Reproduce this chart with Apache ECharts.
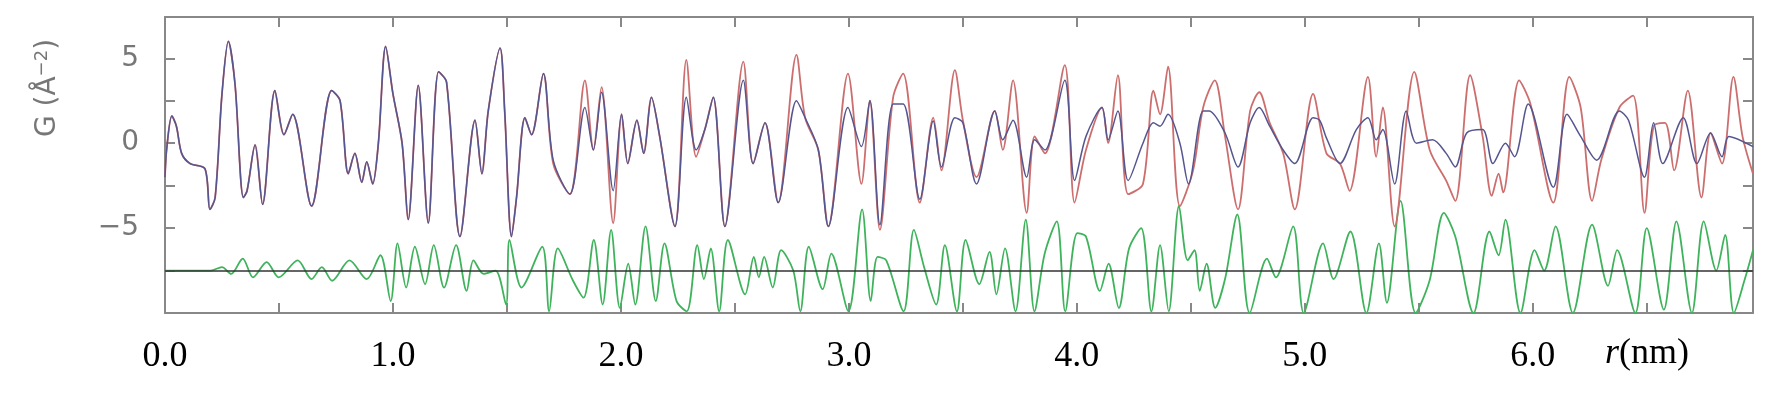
<!DOCTYPE html>
<html><head><meta charset="utf-8">
<script src="https://cdn.jsdelivr.net/npm/echarts@6/dist/echarts.min.js"></script>
<style>html,body{margin:0;padding:0;background:#fff}#c{width:1768px;height:406px}</style>
</head><body><div id="c"></div>
<script>
const xTickLabels = ['0.0','1.0','2.0','3.0','4.0','5.0','6.0'];
const yTickLabels = {'5':'5','0':'0','-5':'−5'};
const diffBaseline = -7.5;
const calcCurve = [[0,-2],[0.007,-0.4],[0.03,1.6],[0.05,1.0],[0.073,-0.6],[0.11,-1.2],[0.175,-1.5],[0.197,-3.9],[0.22,-3.2],[0.25,2.9],[0.278,6.0],[0.307,3.5],[0.344,-3.2],[0.36,-2.8],[0.395,-0.1],[0.428,-3.6],[0.482,3.1],[0.522,0.5],[0.56,1.7],[0.643,-3.7],[0.731,3.1],[0.768,2.5],[0.804,-1.8],[0.833,-0.6],[0.863,-2.3],[0.885,-1.1],[0.911,-2.4],[0.936,0],[0.968,5.7],[1.0,2.9],[1.04,0],[1.067,-4.5],[1.111,3.4],[1.155,-4.7],[1.2,4.2],[1.235,3.6],[1.294,-5.5],[1.36,1.35],[1.39,-1.8],[1.418,1.9],[1.47,5.6],[1.49,1.9],[1.52,-5.5],[1.542,-3.2],[1.579,1.5],[1.608,0.5],[1.66,4.1],[1.703,-1.2],[1.776,-3.0],[1.842,3.7],[1.879,-0.4],[1.915,3.3],[1.966,-4.7],[2.003,1.7],[2.03,-1.2],[2.07,1.35],[2.1,-0.6],[2.134,2.7],[2.17,0.4],[2.237,-4.9],[2.287,4.9],[2.33,-0.8],[2.368,0.8],[2.405,2.7],[2.456,-4.9],[2.537,4.8],[2.58,-1.2],[2.632,1.2],[2.69,-3.5],[2.77,5.2],[2.808,1.5],[2.866,-0.4],[2.91,-4.9],[2.996,4.1],[3.055,-2.4],[3.092,2.5],[3.136,-5.1],[3.194,2.7],[3.238,4.1],[3.311,-3.5],[3.37,1.5],[3.406,-1.6],[3.465,4.3],[3.5,1.35],[3.56,-2.0],[3.64,1.9],[3.675,-0.4],[3.72,3.7],[3.78,-4.1],[3.815,0.4],[3.86,-0.6],[3.947,4.6],[3.99,-3.5],[4.04,-0.4],[4.11,2.1],[4.137,0],[4.18,4.0],[4.225,-3.0],[4.29,-2.4],[4.336,3.1],[4.365,1.7],[4.4,4.5],[4.452,-3.7],[4.51,-1.6],[4.554,2.1],[4.605,3.7],[4.65,0.4],[4.707,-3.9],[4.76,1.9],[4.8,3.0],[4.846,1.2],[4.905,-0.6],[4.956,-3.9],[5.036,2.9],[5.095,-0.6],[5.154,-1.2],[5.196,-2.8],[5.277,3.9],[5.313,-0.8],[5.342,2.1],[5.394,-4.9],[5.48,4.2],[5.548,-0.4],[5.62,-2.2],[5.66,-3.4],[5.725,4.0],[5.78,0.4],[5.82,-3.1],[5.85,-1.8],[5.87,-2.9],[5.94,3.7],[5.99,2.3],[6.09,-3.5],[6.16,3.9],[6.21,2.1],[6.26,-3.4],[6.3,-1.0],[6.38,2.1],[6.44,2.8],[6.49,-4.1],[6.53,1.0],[6.58,1.2],[6.62,-1.6],[6.68,3.1],[6.74,-3.2],[6.78,0.6],[6.83,-1.2],[6.88,3.9],[6.92,0.4],[6.966,-1.8]];
const obsCurve = [[0,-2],[0.007,-0.4],[0.03,1.6],[0.05,1.0],[0.073,-0.6],[0.11,-1.2],[0.175,-1.5],[0.197,-3.9],[0.22,-3.2],[0.25,2.9],[0.278,6.0],[0.307,3.5],[0.344,-3.2],[0.36,-2.8],[0.395,-0.1],[0.428,-3.6],[0.482,3.1],[0.522,0.5],[0.56,1.7],[0.643,-3.7],[0.731,3.1],[0.768,2.5],[0.804,-1.8],[0.833,-0.6],[0.863,-2.3],[0.885,-1.1],[0.911,-2.4],[0.936,0],[0.968,5.7],[1.0,2.9],[1.04,0],[1.067,-4.5],[1.111,3.4],[1.155,-4.7],[1.2,4.2],[1.235,3.6],[1.294,-5.5],[1.36,1.35],[1.39,-1.8],[1.418,1.9],[1.47,5.6],[1.49,1.9],[1.52,-5.5],[1.542,-3.2],[1.579,1.5],[1.608,0.5],[1.66,4.1],[1.703,-1.0],[1.776,-3.0],[1.842,2.1],[1.879,-0.4],[1.915,3.0],[1.966,-2.8],[2.003,1.7],[2.03,-1.2],[2.07,1.35],[2.1,-0.6],[2.134,2.7],[2.17,0.4],[2.237,-4.9],[2.287,2.7],[2.33,-0.4],[2.368,0.8],[2.405,2.7],[2.456,-4.9],[2.537,3.7],[2.58,-1.2],[2.632,1.2],[2.69,-3.5],[2.77,2.5],[2.808,1.5],[2.866,-0.4],[2.91,-4.9],[2.996,2.1],[3.055,-0.2],[3.092,2.5],[3.136,-4.8],[3.194,2.3],[3.238,2.3],[3.311,-3.3],[3.37,1.3],[3.406,-1.4],[3.465,1.5],[3.5,1.2],[3.56,-2.4],[3.64,1.9],[3.675,0.2],[3.72,1.35],[3.78,-2.0],[3.815,0.2],[3.86,-0.4],[3.947,3.7],[3.99,-2.2],[4.04,0.4],[4.11,2.1],[4.137,0.2],[4.18,1.9],[4.225,-2.2],[4.29,0],[4.336,1.2],[4.365,1.0],[4.4,1.7],[4.452,0],[4.49,-2.4],[4.554,1.9],[4.58,1.9],[4.65,0.6],[4.707,-1.4],[4.76,1.2],[4.8,2.1],[4.846,1.0],[4.905,-0.4],[4.956,-1.2],[5.036,1.5],[5.065,1.35],[5.095,0.3],[5.154,-1.2],[5.226,0.8],[5.277,1.5],[5.313,0.2],[5.342,0.8],[5.394,-2.4],[5.445,1.9],[5.49,0],[5.56,0.2],[5.62,-0.6],[5.66,-1.4],[5.71,0.6],[5.78,0.8],[5.825,-1.2],[5.88,0],[5.92,-0.8],[5.98,2.3],[6.09,-2.6],[6.15,1.7],[6.21,0.4],[6.28,-1.0],[6.38,1.9],[6.42,1.35],[6.49,-2.0],[6.53,1.2],[6.57,-1.2],[6.66,1.5],[6.72,-1.2],[6.78,0.6],[6.83,-0.8],[6.86,0.4],[6.966,-0.2]];
const diffCurve = [[0,-7.5],[0.2,-7.5],[0.25,-7.3],[0.29,-7.7],[0.341,-6.8],[0.386,-7.9],[0.446,-7.0],[0.499,-7.9],[0.582,-6.9],[0.643,-8.0],[0.688,-7.3],[0.733,-8.1],[0.809,-6.9],[0.885,-8.0],[0.945,-6.6],[0.99,-9.3],[1.02,-5.9],[1.058,-8.5],[1.096,-6.1],[1.141,-8.3],[1.179,-6.0],[1.224,-8.5],[1.277,-6.0],[1.323,-8.7],[1.353,-6.9],[1.398,-7.7],[1.45,-7.5],[1.496,-9.5],[1.511,-5.7],[1.564,-8.5],[1.655,-6.1],[1.685,-9.9],[1.723,-6.2],[1.79,-8.1],[1.836,-9.1],[1.881,-5.7],[1.92,-9.5],[1.957,-5.1],[1.995,-9.7],[2.032,-7.1],[2.063,-9.5],[2.108,-4.9],[2.153,-9.3],[2.191,-5.9],[2.244,-9.3],[2.289,-9.9],[2.335,-6.0],[2.364,-8.0],[2.394,-6.2],[2.431,-9.9],[2.469,-5.7],[2.545,-8.9],[2.583,-6.7],[2.605,-7.9],[2.628,-6.7],[2.666,-8.5],[2.703,-6.3],[2.756,-7.5],[2.787,-9.9],[2.824,-6.1],[2.885,-8.6],[2.923,-6.5],[2.998,-9.9],[3.058,-3.9],[3.096,-9.3],[3.126,-6.7],[3.164,-6.9],[3.24,-9.9],[3.285,-5.1],[3.33,-7.3],[3.383,-9.5],[3.421,-6.0],[3.474,-9.9],[3.512,-5.7],[3.572,-8.3],[3.617,-6.4],[3.647,-8.9],[3.685,-6.2],[3.731,-9.9],[3.776,-4.5],[3.814,-9.9],[3.859,-6.5],[3.912,-4.6],[3.949,-9.9],[4.002,-5.3],[4.04,-5.5],[4.101,-8.7],[4.139,-7.1],[4.184,-9.7],[4.229,-6.2],[4.282,-5.0],[4.327,-9.9],[4.365,-6.0],[4.403,-9.9],[4.448,-3.7],[4.486,-6.9],[4.516,-6.3],[4.539,-8.7],[4.569,-7.1],[4.607,-9.7],[4.65,-8.0],[4.704,-4.2],[4.758,-10],[4.834,-6.8],[4.873,-7.9],[4.949,-4.9],[4.995,-10],[5.08,-5.9],[5.126,-8.0],[5.2,-5.2],[5.27,-10],[5.325,-5.9],[5.36,-9.4],[5.42,-3.4],[5.486,-10],[5.547,-8.1],[5.61,-4.1],[5.66,-5.5],[5.74,-10],[5.81,-5.2],[5.85,-6.6],[5.88,-4.5],[5.946,-10],[6.008,-6.3],[6.05,-7.5],[6.1,-4.9],[6.176,-10],[6.26,-4.8],[6.33,-8.4],[6.37,-6.3],[6.45,-10],[6.5,-5.0],[6.575,-9.8],[6.63,-4.6],[6.698,-10],[6.75,-4.6],[6.805,-7.5],[6.844,-5.4],[6.882,-10],[6.928,-8.1],[6.966,-6.3]];

const chart = echarts.init(document.getElementById('c'));
const frame = {show:true,onZero:false,lineStyle:{color:'#888',width:2}};
const tickIn = {show:true,inside:true,length:10,lineStyle:{color:'#888',width:2}};
chart.setOption({
  animation:false,
  grid:{left:165,right:15,top:17,bottom:93},
  xAxis:[
    {type:'value',min:0,max:6.966,interval:0.5,axisLine:frame,axisTick:tickIn,splitLine:{show:false},
     axisLabel:{margin:26,fontFamily:'Liberation Serif',fontSize:36,color:'#000',showMaxLabel:false,
       formatter:v=>{const i=Math.round(v*2);return i%2===0?(xTickLabels[i/2]||''):'';}}},
    {type:'value',position:'top',min:0,max:6.966,interval:0.5,axisLine:frame,axisTick:tickIn,axisLabel:{show:false},splitLine:{show:false}}
  ],
  yAxis:[
    {type:'value',min:-10,max:7.43,interval:2.5,axisLine:frame,axisTick:tickIn,splitLine:{show:false},
     axisLabel:{margin:26,fontFamily:'DejaVu Sans',fontSize:28,color:'#777',showMaxLabel:false,
       formatter:v=>yTickLabels[String(v)]||''}},
    {type:'value',position:'right',min:-10,max:7.43,interval:2.5,axisLine:frame,axisTick:tickIn,axisLabel:{show:false},splitLine:{show:false}}
  ],
  graphic:[
    {type:'text',left:1605,top:336,style:{text:'{i|r}(nm)',fontFamily:'Liberation Serif',fontSize:36,fill:'#000',
      rich:{i:{fontFamily:'Liberation Serif',fontStyle:'italic',fontSize:36,fill:'#000'}}}},
    {type:'text',x:48,y:88,rotation:Math.PI/2,style:{text:'G (Å{s|−2})',fontFamily:'DejaVu Sans',fontSize:28,fill:'#777',align:'center',verticalAlign:'middle',
      rich:{s:{fontFamily:'DejaVu Sans',fontSize:18,fill:'#777',verticalAlign:'top',padding:[0,0,12,0]}}}}
  ],
  series:[
    {type:'line',data:diffCurve,symbol:'none',smooth:0.3,lineStyle:{color:'#3fb35c',width:1.8},
     markLine:{silent:true,symbol:'none',label:{show:false},lineStyle:{color:'#333',width:1.5,type:'solid'},data:[{yAxis:diffBaseline}]}},
    {type:'line',data:calcCurve,symbol:'none',smooth:0.3,lineStyle:{color:'#cc6e6e',width:1.8}},
    {type:'line',data:obsCurve,symbol:'none',smooth:0.3,lineStyle:{color:'#55558f',width:1.5}}
  ]
});
</script></body></html>
